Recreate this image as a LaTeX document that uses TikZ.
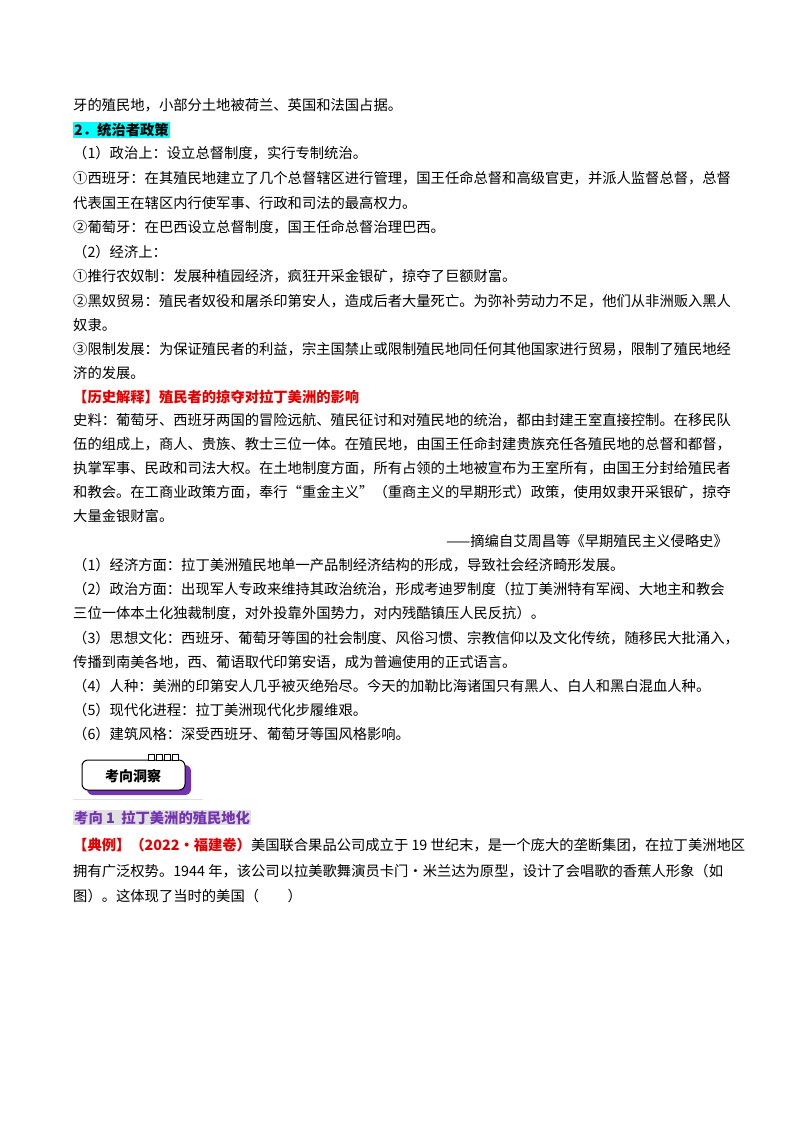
\documentclass[tikz,border=0pt]{standalone}
\usepackage{fontspec}
\setmainfont{Noto Sans CJK SC}
\usepackage{xcolor}
\definecolor{hlcyan}{rgb}{0.0, 1.0, 1.0}
\definecolor{histred}{rgb}{0.9, 0.0, 0.0}
\definecolor{kxpurple}{rgb}{0.45, 0.2, 0.7}
\definecolor{kxgrey}{rgb}{0.88, 0.88, 0.88}
\tikzset{
  txt/.style={anchor=base west,inner sep=0pt,font=\fontsize{14.3}{16}\selectfont},
  src/.style={anchor=base west,inner sep=0pt,font=\fontsize{14.3}{16}\selectfont},
}
\begin{document}
\begin{tikzpicture}[x=1pt,y=-1pt]
\useasboundingbox (0,0) rectangle (800,1132);
\node[txt] (l1) at (73,110) {牙的殖民地，小部分土地被荷兰、英国和法国占据。};
\node[txt,fill=hlcyan,inner sep=1pt,font=\fontsize{14.3}{16}\selectfont\bfseries] (l2) at (73,135) {2．统治者政策};
\node[txt] (l3) at (73,158) {（1）政治上：设立总督制度，实行专制统治。};
\node[txt] (l4) at (73,183) {①西班牙：在其殖民地建立了几个总督辖区进行管理，国王任命总督和高级官吏，并派人监督总督，总督};
\node[txt] (l5) at (73,208) {代表国王在辖区内行使军事、行政和司法的最高权力。};
\node[txt] (l6) at (73,232) {②葡萄牙：在巴西设立总督制度，国王任命总督治理巴西。};
\node[txt] (l7) at (73,257) {（2）经济上：};
\node[txt] (l8) at (73,281) {①推行农奴制：发展种植园经济，疯狂开采金银矿，掠夺了巨额财富。};
\node[txt] (l9) at (73,306) {②黑奴贸易：殖民者奴役和屠杀印第安人，造成后者大量死亡。为弥补劳动力不足，他们从非洲贩入黑人};
\node[txt] (l10) at (73,330) {奴隶。};
\node[txt] (l11) at (73,354) {③限制发展：为保证殖民者的利益，宗主国禁止或限制殖民地同任何其他国家进行贸易，限制了殖民地经};
\node[txt] (l12) at (73,378) {济的发展。};
\node[txt,text=histred,font=\fontsize{14.3}{16}\selectfont\bfseries] (l13) at (73,402) {【历史解释】殖民者的掠夺对拉丁美洲的影响};
\node[src] (s1) at (73,425) {史料：葡萄牙、西班牙两国的冒险远航、殖民征讨和对殖民地的统治，都由封建王室直接控制。在移民队};
\node[src] (s2) at (73,449) {伍的组成上，商人、贵族、教士三位一体。在殖民地，由国王任命封建贵族充任各殖民地的总督和都督，};
\node[src] (s3) at (73,473) {执掌军事、民政和司法大权。在土地制度方面，所有占领的土地被宣布为王室所有，由国王分封给殖民者};
\node[src] (s4) at (73,497) {和教会。在工商业政策方面，奉行“重金主义”（重商主义的早期形式）政策，使用奴隶开采银矿，掠夺};
\node[src] (s5) at (73,521) {大量金银财富。};
\node[src,anchor=base east] (s6) at (728,546) {——摘编自艾周昌等《早期殖民主义侵略史》};
\node[txt] (e1) at (73,570) {（1）经济方面：拉丁美洲殖民地单一产品制经济结构的形成，导致社会经济畸形发展。};
\node[txt] (e2) at (73,594) {（2）政治方面：出现军人专政来维持其政治统治，形成考迪罗制度（拉丁美洲特有军阀、大地主和教会};
\node[txt] (e3) at (73,618) {三位一体本土化独裁制度，对外投靠外国势力，对内残酷镇压人民反抗）。};
\node[txt] (e4) at (73,643) {（3）思想文化：西班牙、葡萄牙等国的社会制度、风俗习惯、宗教信仰以及文化传统，随移民大批涌入，};
\node[txt] (e5) at (73,667) {传播到南美各地，西、葡语取代印第安语，成为普遍使用的正式语言。};
\node[txt] (e6) at (73,691) {（4）人种：美洲的印第安人几乎被灭绝殆尽。今天的加勒比海诸国只有黑人、白人和黑白混血人种。};
\node[txt] (e7) at (73,715) {（5）现代化进程：拉丁美洲现代化步履维艰。};
\node[txt] (e8) at (73,739) {（6）建筑风格：深受西班牙、葡萄牙等国风格影响。};
% badge
\draw[kxgrey,line width=1pt] (73,799) -- (203,799);
\fill[kxpurple,rounded corners=6pt] (87,765) rectangle (191,795);
\draw[fill=white,line width=1pt,rounded corners=6pt] (82,760) rectangle (185,790);
\foreach \i in {0,1,2,3}
  \draw[fill=white,line width=0.8pt] (148+\i*8,754) rectangle (154+\i*8,760);
\node[font=\fontsize{14}{16}\selectfont\bfseries] (badge) at (133,776) {考向洞察};
\node[txt,fill=kxgrey,inner sep=1pt,text=kxpurple,font=\fontsize{14.3}{16}\selectfont\bfseries] (h1) at (73,823) {考向 1\ \ 拉丁美洲的殖民地化};
\node[txt] (d1) at (73,850) {\textcolor{histred}{\bfseries 【典例】（2022·福建卷）}美国联合果品公司成立于 19 世纪末，是一个庞大的垄断集团，在拉丁美洲地区};
\node[txt] (d2) at (73,876) {拥有广泛权势。1944 年，该公司以拉美歌舞演员卡门·米兰达为原型，设计了会唱歌的香蕉人形象（如};
\node[txt] (d3) at (73,901) {图）。这体现了当时的美国（\qquad）};
\end{tikzpicture}
\end{document}
